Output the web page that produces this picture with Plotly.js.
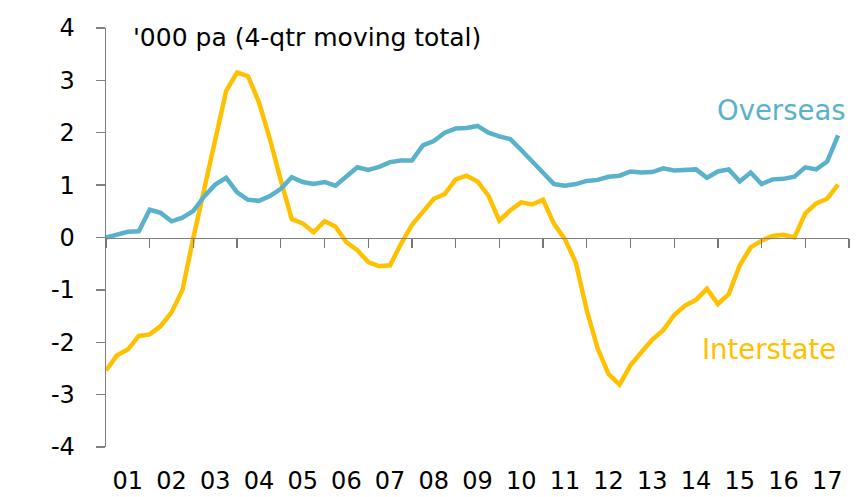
<!DOCTYPE html>
<html>
<head>
<meta charset="utf-8">
<script src="https://cdn.plot.ly/plotly-3.0.1.min.js"></script>
<style>html,body{margin:0;padding:0;background:#fff;}#chart{width:857px;height:497px;}</style>
</head>
<body>
<div id="chart"></div>
<script>
// Quarterly observations, 2001 Q1 .. 2017 Q4
const startYear = 2001;
const overseas = [
  0.00, 0.05, 0.11, 0.12, 0.53, 0.47, 0.31, 0.38, 0.51, 0.79, 1.01, 1.14,
  0.86, 0.72, 0.70, 0.79, 0.93, 1.15, 1.06, 1.02, 1.06, 0.99, 1.16, 1.34,
  1.29, 1.35, 1.44, 1.47, 1.47, 1.76, 1.84, 2.00, 2.08, 2.09, 2.13, 2.00,
  1.93, 1.88, 1.67, 1.45, 1.26, 1.02, 0.99, 1.02, 1.08, 1.10, 1.16, 1.18,
  1.26, 1.24, 1.25, 1.32, 1.28, 1.28, 1.30, 1.14, 1.26, 1.30, 1.07, 1.24,
  1.02, 1.11, 1.12, 1.16, 1.34, 1.30, 1.45, 1.95
];
const interstate = [
  -2.54, -2.25, -2.14, -1.88, -1.85, -1.69, -1.43, -1.00, 0.00, 0.95, 1.90, 2.80,
  3.15, 3.08, 2.58, 1.88, 1.09, 0.35, 0.27, 0.10, 0.31, 0.21, -0.09, -0.24,
  -0.47, -0.55, -0.53, -0.12, 0.24, 0.48, 0.74, 0.83, 1.11, 1.18, 1.07, 0.80,
  0.32, 0.52, 0.67, 0.63, 0.72, 0.26, -0.03, -0.48, -1.39, -2.12, -2.61, -2.81,
  -2.44, -2.19, -1.95, -1.77, -1.48, -1.30, -1.19, -0.98, -1.27, -1.08, -0.53, -0.19,
  -0.06, 0.03, 0.05, 0.00, 0.46, 0.65, 0.74, 1.01
];
const yearLabels = ['01','02','03','04','05','06','07','08','09','10','11','12','13','14','15','16','17'];
const yTicks = [-4,-3,-2,-1,0,1,2,3,4];

const dates = overseas.map((_, i) => startYear + i * 0.25);
const labelPos = yearLabels.map((_, i) => startYear + i + 0.5);
const boundaryPos = [];
for (let i = 0; i <= yearLabels.length; i++) boundaryPos.push(startYear + i);

const FONT = 'DejaVu Sans';
const BLUE = '#5AB1CC';
const GOLD = '#FFC000';

const traces = [
  {x: dates, y: interstate, type: 'scatter', mode: 'lines', name: 'Interstate',
   line: {color: GOLD, width: 4.5}, xaxis: 'x', yaxis: 'y'},
  {x: dates, y: overseas, type: 'scatter', mode: 'lines', name: 'Overseas',
   line: {color: BLUE, width: 4.5}, xaxis: 'x2', yaxis: 'y'}
];

const layout = {
  width: 857, height: 497,
  margin: {l: 106, r: 8, t: 27.5, b: 50.3, pad: 0},
  paper_bgcolor: '#fff', plot_bgcolor: '#fff',
  showlegend: false,
  font: {family: FONT, color: '#000', size: 22},
  xaxis: {
    range: [startYear, startYear + yearLabels.length],
    tickmode: 'array', tickvals: labelPos, ticktext: yearLabels,
    ticks: '', showline: false, showgrid: false, zeroline: false,
    tickfont: {family: FONT, size: 24, color: '#000'},
    ticklabelstandoff: 17
  },
  xaxis2: {
    overlaying: 'x', anchor: 'free', position: 0.5,
    range: [startYear, startYear + yearLabels.length],
    tickmode: 'array', tickvals: boundaryPos,
    ticks: 'outside', ticklen: 9, tickwidth: 1.3, tickcolor: '#777',
    showline: true, linecolor: '#808080', linewidth: 1.3,
    showticklabels: false, showgrid: false, zeroline: false
  },
  yaxis: {
    range: [-4, 4],
    tickmode: 'array', tickvals: yTicks, ticktext: yTicks.map(String),
    ticks: 'outside', ticklen: 9, tickwidth: 1.3, tickcolor: '#808080',
    showline: true, linecolor: '#808080', linewidth: 1.3,
    showgrid: false, zeroline: false,
    tickfont: {family: FONT, size: 24, color: '#000'},
    ticklabelstandoff: 16
  },
  annotations: [
    {text: "'000 pa (4-qtr moving total)", xref: 'paper', yref: 'paper',
     x: 0.034, y: 0.978, xanchor: 'left', yanchor: 'middle', showarrow: false,
     font: {family: FONT, size: 25, color: '#000'}},
    {text: 'Overseas', xref: 'paper', yref: 'paper',
     x: 0.998, y: 0.804, xanchor: 'right', yanchor: 'middle', showarrow: false,
     font: {family: FONT, size: 27.5, color: BLUE}},
    {text: 'Interstate', xref: 'paper', yref: 'paper',
     x: 0.985, y: 0.235, xanchor: 'right', yanchor: 'middle', showarrow: false,
     font: {family: FONT, size: 27.5, color: GOLD}}
  ]
};

Plotly.newPlot('chart', traces, layout, {staticPlot: true, displayModeBar: false});
</script>
</body>
</html>
